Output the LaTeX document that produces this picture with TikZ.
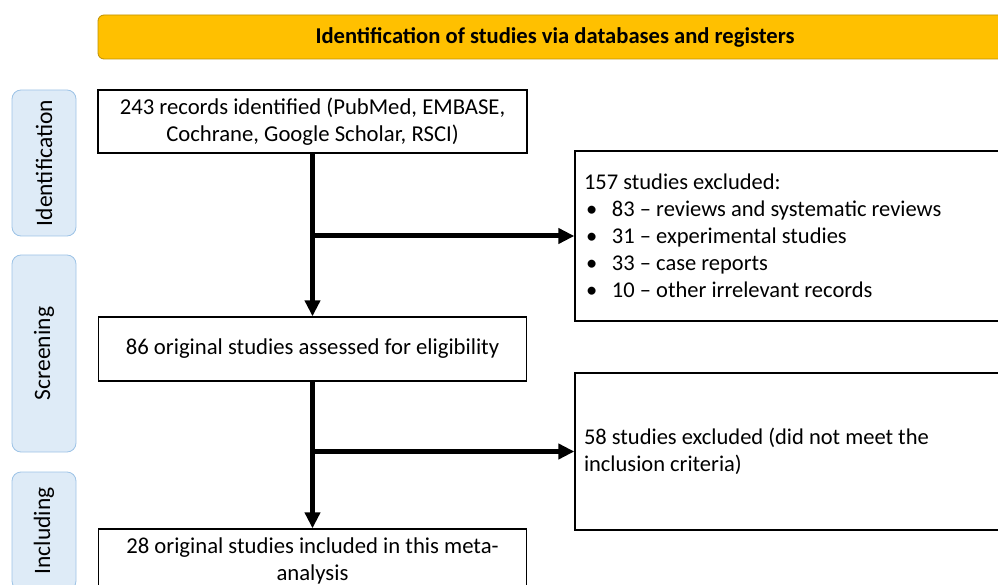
\documentclass[tikz,border=0pt]{standalone}
\usepackage{fontspec}
\setmainfont{Carlito}
\usetikzlibrary{arrows.meta}
\definecolor{bannerfill}{HTML}{FFC000}
\definecolor{bannerline}{HTML}{BF9000}
\definecolor{phasefill}{HTML}{DEEBF7}
\definecolor{phaseline}{HTML}{9DC3E6}
\tikzset{% styles of the flow diagram
  box/.style={draw, line width=1.3pt, inner sep=0pt, align=center, font=\fontsize{22.7}{26.5}\selectfont},
  sidebox/.style={draw, line width=1.3pt, inner xsep=9pt, inner ysep=0pt, text width=422pt, align=flush left, font=\fontsize{22.5}{27}\selectfont},
  phase/.style={draw=phaseline, fill=phasefill, rounded corners=9pt, line width=0.8pt, minimum height=64pt, inner sep=0pt, rotate=90, font=\fontsize{23.5}{28}\selectfont},
  flow/.style={line width=5pt, -{Triangle[length=16pt,width=15pt]}}
}
\newcommand{\bul}{\makebox[28pt][l]{\hspace{2pt}\textbullet}}

\begin{document}
\begin{tikzpicture}[x=1pt, y=-1pt]
\useasboundingbox (0,0) rectangle (998,585);
\clip (0,0) rectangle (998,585);

% header
\node [draw=bannerline, fill=bannerfill, rounded corners=6pt, line width=0.8pt, minimum width=914pt, minimum height=44pt,
  font=\fontsize{22.6}{25}\selectfont\bfseries] (banner) at (555,37) {Identification of studies via databases and registers};

% phases on the left
\node [phase, minimum width=146pt] (idphase) at (44,163) {Identification};
\node [phase, minimum width=197pt] (scrphase) at (44,353.5) {Screening};
\node [phase, minimum width=118pt] (incphase) at (44,531) {Including};

% main column
\node [box, minimum width=429pt, minimum height=63pt] (records) at (312.5,121.5)
  {243 records identified (PubMed, EMBASE,\\ Cochrane, Google Scholar, RSCI)};
\node [box, minimum width=428pt, minimum height=64pt] (assessed) at (312.5,349)
  {86 original studies assessed for eligibility};
\node [box, minimum width=428pt, minimum height=64pt] (included) at (312.5,561)
  {28 original studies included in this meta-\\ analysis};

% excluded boxes
\node [sidebox, minimum height=170pt] (excl1) at (795,236)
  {157 studies excluded:\\
   \bul 83 -- reviews and systematic reviews\\
   \bul 31 -- experimental studies\\
   \bul 33 -- case reports\\
   \bul 10 -- other irrelevant records};
\node [sidebox, minimum height=157pt] (excl2) at (795,451.5)
  {58 studies excluded (did not meet the\\ inclusion criteria)};

% junctions on the main arrows
\coordinate (j1) at (records.south |- excl1.west);
\coordinate (j2) at (assessed.south |- excl2.west);

% arrows
\draw [flow] (records.south) -- (assessed.north);
\draw [flow] (j1) -- (excl1.west);
\draw [flow] (assessed.south) -- (included.north);
\draw [flow] (j2) -- (excl2.west);
\end{tikzpicture}
\end{document}
